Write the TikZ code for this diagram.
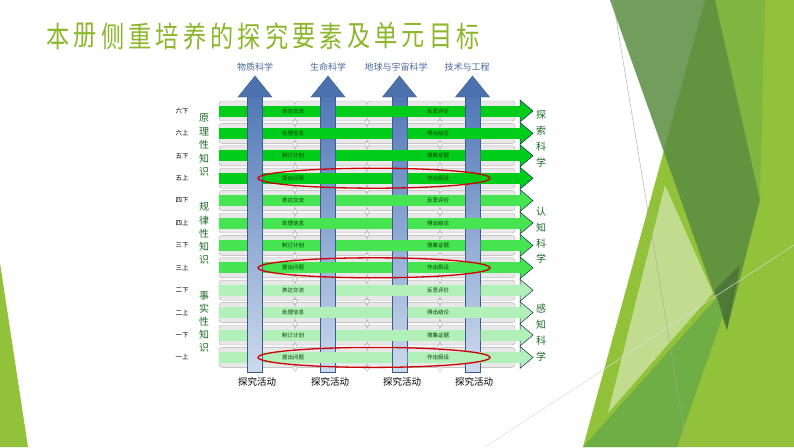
\documentclass[tikz,border=0pt]{standalone}
\usepackage{fontspec}
\setmainfont{Noto Sans CJK SC}
\usetikzlibrary{calc}

\definecolor{titlegreen}{RGB}{141,182,42}
\definecolor{knowgreen}{RGB}{30,105,40}
\definecolor{barA}{RGB}{0,205,25}
\definecolor{barB}{RGB}{70,228,80}
\definecolor{barC}{RGB}{178,240,185}
\definecolor{colblue}{RGB}{80,120,182}
\definecolor{colpale}{RGB}{205,218,238}
\definecolor{colline}{RGB}{60,92,140}
\definecolor{headline}{RGB}{25,45,90}
\definecolor{toplabel}{RGB}{75,105,155}
\definecolor{leafA}{RGB}{146,193,58}
\definecolor{leafB}{RGB}{90,140,65}
\definecolor{leafC}{RGB}{110,172,70}
\definecolor{leafD}{RGB}{214,232,178}

\tikzset{
  titlechar/.style={font=\fontsize{29}{29}\selectfont, text=titlegreen, xscale=0.8, inner sep=0},
  gradelabel/.style={font=\fontsize{6.5}{7}\selectfont, text=black, inner sep=0},
  knowlabel/.style={font=\fontsize{10}{10}\selectfont, text=knowgreen, inner sep=0},
  scilabel/.style={font=\fontsize{9}{9}\selectfont, text=toplabel, inner sep=0},
  actlabel/.style={font=\fontsize{9.5}{10}\selectfont, text=black, inner sep=0},
  bartext/.style={font=\fontsize{5.5}{6}\selectfont, text=black!75!green, inner sep=0},
  ribbon/.style={fill=gray!18, draw=gray!65, line width=0.4, rounded corners=3},
  goal/.style={draw=red!80!black, line width=1.3}
}

\newcommand{\colshaft}[1]{\shade[top color=colblue, bottom color=colpale, draw=colline, line width=0.5] (#1-7.5,95) rectangle (#1+7.5,372);}

\begin{document}
\begin{tikzpicture}[x=1pt, y=-1pt]
  \useasboundingbox (0,0) rectangle (794,447);
  \fill[white] (0,0) rectangle (794,447);

  % background facets
  \fill[leafA] (0,263) -- (28,447) -- (0,447) -- cycle;
  \fill[leafA] (705,0) -- (794,0) -- (794,447) -- (583,447) -- cycle;
  \fill[leafB, opacity=0.85] (610,0) -- (715,0) -- (760,200) -- (727,330) -- cycle;
  \fill[leafC, opacity=0.5] (715,0) -- (765,0) -- (760,200) -- cycle;
  \fill[leafC, opacity=0.95] (583,447) -- (737,275) -- (677,447) -- cycle;
  \fill[leafB!80!black, opacity=0.8] (715,290) -- (740,265) -- (727,330) -- cycle;
  \fill[leafD, opacity=0.7] (608,413) -- (665,185) -- (713,293) -- cycle;
  \draw[gray!70, line width=0.4] (613,0) -- (687,447);
  \draw[gray!30, line width=0.5] (485,447) -- (794,245);

  % title
  \foreach \c [count=\k] in {本,册,侧,重,培,养,的,探,究,要,素,及,单,元,目,标}
    \node[titlechar] (t\k) at ({58+27.33*(\k-1)}, 36) {\c};

  % rows behind
  \foreach \i in {1,...,12} {
    \pgfmathsetmacro\yc{111+22.4*(\i-1)}
    \foreach \sa/\sb in {219/295,295/367,367/440,440/515}
      \draw[ribbon] (\sa,\yc-10) rectangle (\sb,\yc+10);
  }

  % columns
  \foreach \cx in {255,328,399.5,472.5} {
    \colshaft{\cx}
    \fill[colblue!95!black, draw=colline, line width=0.4] (\cx-7.5,97) -- (\cx-17,97) -- (\cx,76) -- (\cx+17,97) -- (\cx+7.5,97) -- cycle;
  }

  % green bars
  \foreach \i in {1,...,12} {
    \pgfmathsetmacro\yc{111+22.4*(\i-1)}
    \ifnum\i<5 \def\bc{barA}\else\ifnum\i<9 \def\bc{barB}\else\def\bc{barC}\fi\fi
    \fill[\bc] (219,\yc-5.5) rectangle (521,\yc+5.5);
    \filldraw[fill=\bc, draw=headline, line width=0.5] (520,\yc-5.5) -- (520,\yc-11) -- (533,\yc) -- (520,\yc+11) -- (520,\yc+5.5);
    \foreach \dx in {295,367,440}
      \filldraw[fill=white, draw=gray!70, line width=0.3] (\dx,\yc+8.5) -- (\dx+2.2,\yc+11.2) -- (\dx,\yc+14) -- (\dx-2.2,\yc+11.2) -- cycle;
  }

  % columns over the bars (weave)
  \foreach \i in {1,...,12} {
    \pgfmathsetmacro\yc{111+22.4*(\i-1)}
    \ifodd\i \def\overcols{255,328,472.5}\else\def\overcols{255,399.5}\fi
    \foreach \cx in \overcols {
      \begin{scope}
        \clip (\cx-8,\yc-6.5) rectangle (\cx+8,\yc+6.5);
        \colshaft{\cx}
      \end{scope}
    }
  }

  % bar texts
  \foreach \i/\lt/\rt in {1/表达交流/反思评价, 2/处理信息/得出结论, 3/制订计划/搜集证据, 4/提出问题/作出假设,
                          5/表达交流/反思评价, 6/处理信息/得出结论, 7/制订计划/搜集证据, 8/提出问题/作出假设,
                          9/表达交流/反思评价, 10/处理信息/得出结论, 11/制订计划/搜集证据, 12/提出问题/作出假设} {
    \pgfmathsetmacro\yc{111+22.4*(\i-1)}
    \node[bartext] (l\i) at (293,\yc) {\lt};
    \node[bartext] (r\i) at (438,\yc) {\rt};
  }

  % goals
  \foreach \i in {4,8,12} {
    \pgfmathsetmacro\yc{111+22.4*(\i-1)}
    \draw[goal] (374,\yc) ellipse [x radius=116, y radius=10];
  }

  % grade labels
  \foreach \g [count=\i] in {六下,六上,五下,五上,四下,四上,三下,三上,二下,二上,一下,一上}
    \node[gradelabel] (g\i) at (182,{111+22.4*(\i-1)}) {\g};

  % knowledge labels
  \foreach \c [count=\k] in {原,理,性,知,识}
    \node[knowlabel] (ka\k) at (204,{118+13.5*(\k-1)}) {\c};
  \foreach \c [count=\k] in {规,律,性,知,识}
    \node[knowlabel] (kb\k) at (204,{207+13.2*(\k-1)}) {\c};
  \foreach \c [count=\k] in {事,实,性,知,识}
    \node[knowlabel] (kc\k) at (204,{296+13*(\k-1)}) {\c};

  % goal labels
  \foreach \c [count=\k] in {探,索,科,学}
    \node[knowlabel] (sa\k) at (541,{115+16*(\k-1)}) {\c};
  \foreach \c [count=\k] in {认,知,科,学}
    \node[knowlabel] (sb\k) at (541,{212+15.7*(\k-1)}) {\c};
  \foreach \c [count=\k] in {感,知,科,学}
    \node[knowlabel] (sc\k) at (541,{309+16*(\k-1)}) {\c};

  % top and bottom labels
  \node[scilabel] (phy) at (255,67) {物质科学};
  \node[scilabel] (bio) at (328,67) {生命科学};
  \node[scilabel] (ear) at (396,67) {地球与宇宙科学};
  \node[scilabel] (tec) at (467,67) {技术与工程};
  \foreach \cx [count=\j] in {257,330,402,474}
    \node[actlabel] (a\j) at (\cx,382) {探究活动};
\end{tikzpicture}
\end{document}
